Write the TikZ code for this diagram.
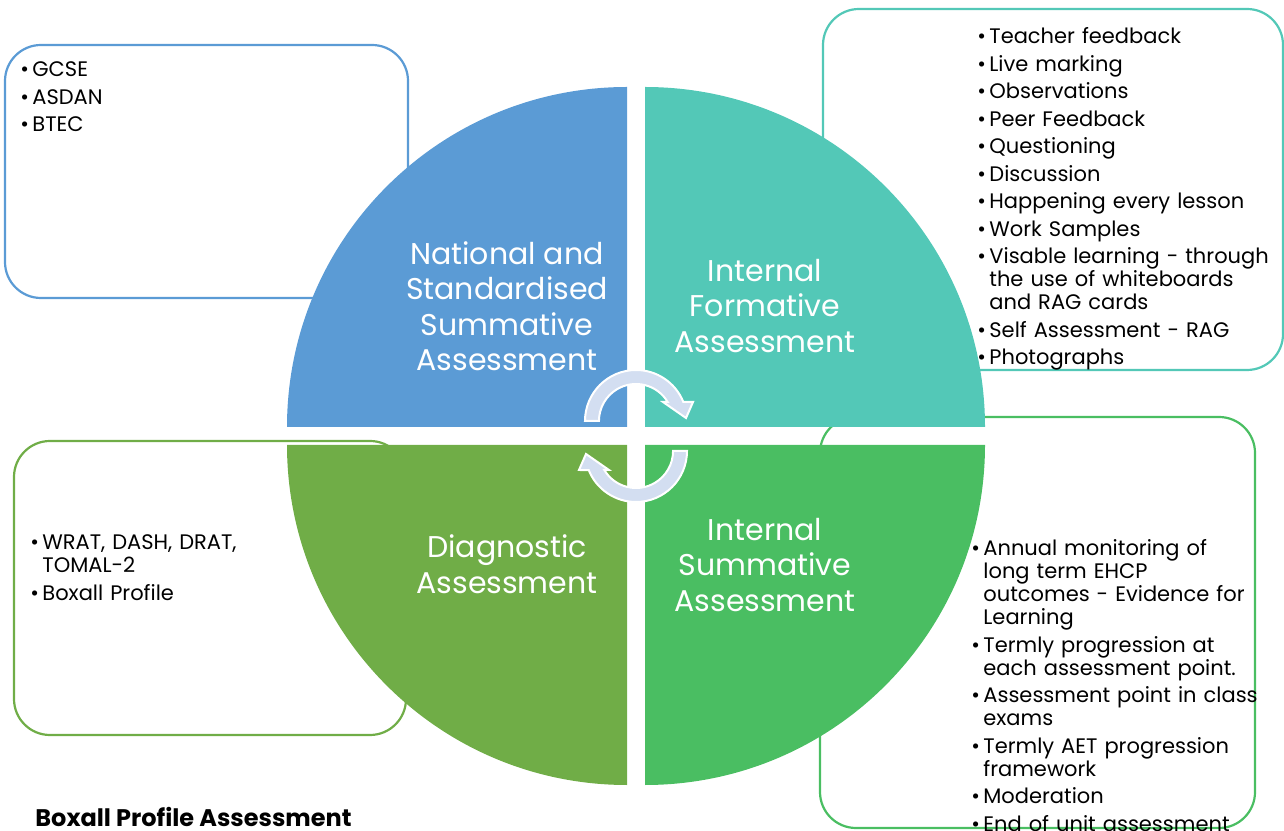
\documentclass[tikz,border=0pt]{standalone}
\usepackage{fontspec}
\setmainfont{Poppins}
\definecolor{natblue}{HTML}{5B9BD5}
\definecolor{formteal}{HTML}{53C8B7}
\definecolor{diaggreen}{HTML}{70AD47}
\definecolor{sumgreen}{HTML}{4ABE62}
\definecolor{cyclefill}{HTML}{D3DEF1}
\newcommand\bitem[1]{\par\hangindent=6pt\hangafter=1\noindent\makebox[6pt][l]{\textbullet}#1}
\tikzset{
	infobox/.style={line width=1.1pt, rounded corners=18pt},
	quadlabel/.style={text=white, font=\fontsize{15}{17.75}\selectfont, align=center, inner sep=0pt},
	itemlist/.style={anchor=north west, inner sep=0pt, text width=#1, align=left,
		font=\fontsize{10.5}{11.5}\selectfont, execute at begin node={\setlength{\parskip}{2.25pt}}},
}
\begin{document}
\begin{tikzpicture}[x=0.5pt, y=0.5pt]
	\useasboundingbox (0,0) rectangle (1284,830);
	% boxes sit behind the wheel
	\draw[infobox, natblue] (5,785) rectangle (408,532);
	\draw[infobox, formteal] (823,821) rectangle (1283,460);
	\draw[infobox, diaggreen] (14,389) rectangle (406,95);
	\draw[infobox, sumgreen] (820,413) rectangle (1255,2);
	% the four quarters
	\fill[natblue] (627,403) -- ++(-340,0) arc[start angle=180, end angle=90, radius=340] -- cycle;
	\fill[formteal] (645,403) -- ++(340,0) arc[start angle=0, end angle=90, radius=340] -- cycle;
	\fill[diaggreen] (627,385) -- ++(-340,0) arc[start angle=180, end angle=270, radius=340] -- cycle;
	\fill[sumgreen] (645,385) -- ++(340,0) arc[start angle=0, end angle=-90, radius=340] -- cycle;
	% cycle arrows
	\foreach \turn in {0,180}
		\filldraw[fill=cyclefill, draw=white, line width=1pt, rotate around={\turn:(636,394)}]
			(585,409) arc[start angle=180, end angle=21.9, radius=51] -- (693,428) -- (686,412)
			-- (663,428) -- (667.7,428) arc[start angle=30.9, end angle=180, radius=37] -- cycle;
	\node[quadlabel] (national) at (507,524) {National and\\Standardised\\Summative\\Assessment};
	\node[quadlabel] (formative) at (765,524) {Internal\\Formative\\Assessment};
	\node[quadlabel] (diagnostic) at (507,266) {Diagnostic\\Assessment};
	\node[quadlabel] (internalsum) at (765,265) {Internal\\Summative\\Assessment};
	% lists
	\node[itemlist=150pt] (natlist) at (20,781) {\bitem{GCSE}\bitem{ASDAN}\bitem{BTEC}};
	\node[itemlist=160pt] (formlist) at (977,814) {\bitem{Teacher feedback}\bitem{Live marking}
		\bitem{Observations}\bitem{Peer Feedback}\bitem{Questioning}\bitem{Discussion}
		\bitem{Happening every lesson}\bitem{Work Samples}
		\bitem{Visable learning - through\newline the use of whiteboards\newline and RAG cards}
		\bitem{Self Assessment - RAG}\bitem{Photographs}};
	\node[itemlist=150pt] (diaglist) at (30,308) {\bitem{WRAT, DASH, DRAT,\newline TOMAL-2}\bitem{Boxall Profile}};
	\node[itemlist=160pt] (sumlist) at (971,302) {\bitem{Annual monitoring of\newline long term EHCP\newline outcomes - Evidence for\newline Learning}
		\bitem{Termly progression at\newline each assessment point.}\bitem{Assessment point in class\newline exams}
		\bitem{Termly AET progression\newline framework}\bitem{Moderation}\bitem{End of unit assessment}};
	\node[anchor=west, inner sep=0pt, font=\bfseries\fontsize{12}{14}\selectfont] (boxalltitle) at (35,13) {Boxall Profile Assessment};
\end{tikzpicture}
\end{document}
